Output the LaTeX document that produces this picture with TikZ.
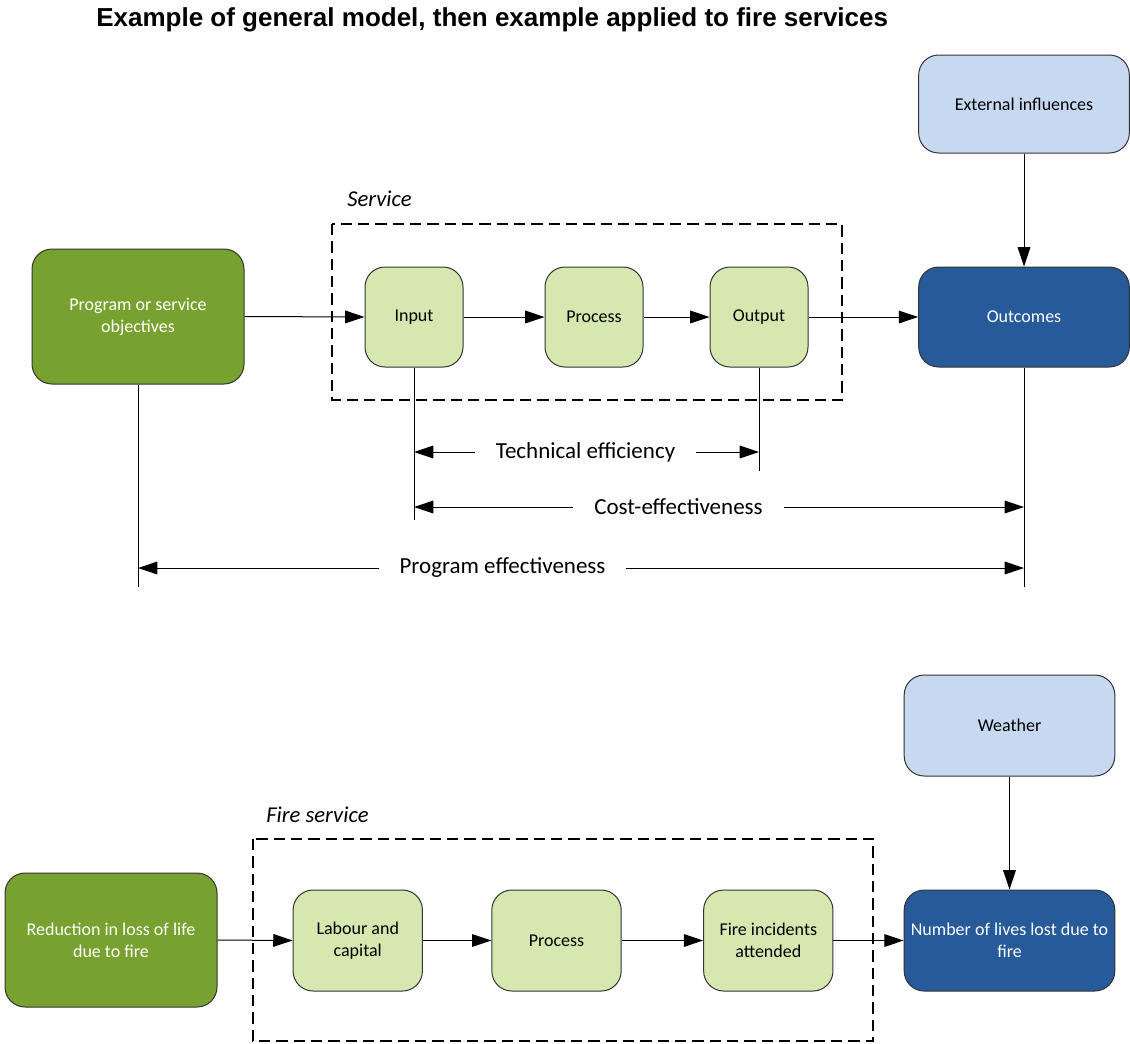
\documentclass[tikz,border=0pt]{standalone}
\usepackage{fontspec}
\setmainfont{Carlito}
\newfontfamily\titlefont{Liberation Sans}
\usetikzlibrary{arrows.meta}
\definecolor{dkgreen}{HTML}{78A22F}
\definecolor{ltgreen}{HTML}{D4E8B0}
\definecolor{ltblue}{HTML}{C6D9F0}
\definecolor{dkblue}{HTML}{265A99}
\definecolor{edge}{HTML}{333333}
\begin{document}
\begin{tikzpicture}[x=0.75pt,y=-0.75pt,
  box/.style={draw=edge, line width=0.75pt, rounded corners=15pt, align=center, inner sep=1pt,
    font={\fontsize{13.5}{16.5}\selectfont}},
  objbox/.style={box, fill=dkgreen, text=white, minimum width=159pt},
  extbox/.style={box, fill=ltblue, text=black, minimum width=158pt},
  outbox/.style={box, fill=dkblue, text=white, minimum width=158pt},
  stepbox/.style={box, fill=ltgreen, text=black},
  arr/.style={-{Triangle[length=14.5pt,width=9.5pt]}, line width=0.75pt, black},
  plain/.style={line width=0.75pt, black},
  dashbox/.style={line width=1.2pt, dash pattern=on 8.5pt off 4.5pt, black},
  grp/.style={font={\fontsize{17}{20}\selectfont\itshape}, inner sep=0pt},
  dim/.style={font={\fontsize{17.25}{20}\selectfont}, inner xsep=15.5pt, inner ysep=0pt}
]
\useasboundingbox (0,0) rectangle (1130,1043);

% Title
\node[anchor=west, inner sep=0pt, font={\titlefont\bfseries\fontsize{19.5}{24}\selectfont}] (title) at (96,20)
  {Example of general model, then example applied to fire services};

% ---------- Top model ----------
\draw[dashbox] (332,224) rectangle (842,400);
\node[grp, anchor=west] (svc) at (347,199) {Service};

\node[objbox, minimum height=101.25pt] (prog) at (138,316.5) {Program or service\\objectives};
\node[stepbox, minimum width=73.5pt, minimum height=75pt] (input) at (414,317) {Input};
\node[stepbox, minimum width=73.5pt, minimum height=75pt] (proc) at (594,317) {Process};
\node[stepbox, minimum width=73.5pt, minimum height=75pt] (output) at (759,317) {Output};
\node[outbox, minimum height=75pt] (outc) at (1024,317) {Outcomes};
\node[extbox, minimum height=73.5pt] (ext) at (1024,104) {External influences};

\draw[arr] (prog.east) -- (input.west);
\draw[arr] (input.east) -- (proc.west);
\draw[arr] (proc.east) -- (output.west);
\draw[arr] (output.east) -- (outc.west);
\draw[arr] (ext.south) -- (outc.north);

\coordinate (progB) at (138,587);
\coordinate (inB) at (414,520);
\coordinate (outB) at (759,471);
\coordinate (outcB) at (1024,587);
\draw[plain] (prog.south) -- (progB);
\draw[plain] (input.south) -- (inB);
\draw[plain] (output.south) -- (outB);
\draw[plain] (outc.south) -- (outcB);

\node[dim] (tech) at (585.5,452) {Technical efficiency};
\draw[arr] (tech.west) -- (tech.west -| inB);
\draw[arr] (tech.east) -- (tech.east -| outB);

\node[dim] (cost) at (678.5,507) {Cost-effectiveness};
\draw[arr] (cost.west) -- (cost.west -| inB);
\draw[arr] (cost.east) -- (cost.east -| outcB);

\node[dim] (peff) at (502.5,568) {Program effectiveness};
\draw[arr] (peff.west) -- (peff.west -| progB);
\draw[arr] (peff.east) -- (peff.east -| outcB);

% ---------- Fire services ----------
\draw[dashbox] (253,839) rectangle (873,1041);
\node[grp, anchor=west] (fsvc) at (266,815) {Fire service};

\node[objbox, minimum height=100.5pt] (red) at (111,940) {Reduction in loss of life\\due to fire};
\node[stepbox, minimum width=97pt, minimum height=75.75pt] (lab) at (357.75,940.5) {Labour and\\capital};
\node[stepbox, minimum width=97pt, minimum height=75.75pt] (proc2) at (556.5,940.5) {Process};
\node[stepbox, minimum width=97pt, minimum height=75.75pt] (fire) at (768.3,940.5) {Fire incidents\\attended};
\node[outbox, minimum height=75.75pt] (lives) at (1009.5,940.5) {Number of lives lost due to\\fire};
\node[extbox, minimum height=75.75pt] (wea) at (1009.5,725.5) {Weather};

\draw[arr] (red.east) -- (lab.west);
\draw[arr] (lab.east) -- (proc2.west);
\draw[arr] (proc2.east) -- (fire.west);
\draw[arr] (fire.east) -- (lives.west);
\draw[arr] (wea.south) -- (lives.north);
\end{tikzpicture}
\end{document}
